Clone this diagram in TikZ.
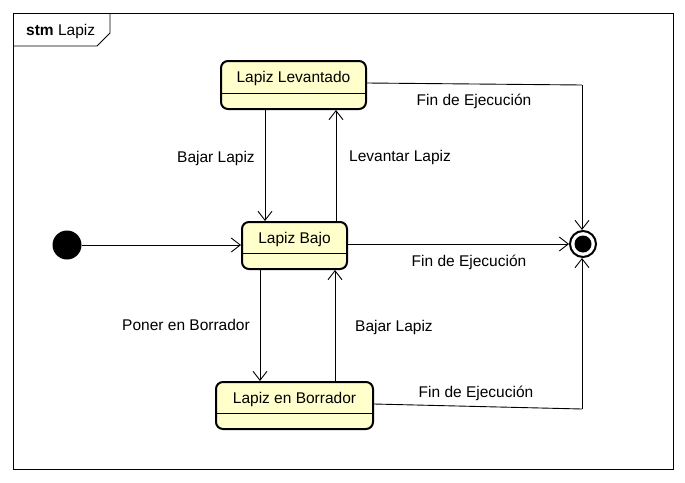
\documentclass[tikz,border=0pt]{standalone}
\usepackage{fontspec}
\setmainfont{Liberation Sans}
\usetikzlibrary{arrows.meta}
\tikzset{
  stbox/.style={draw=black, line width=2pt, fill=stfill, rounded corners=7pt, inner sep=0pt},
  txt/.style={font=\fontsize{15.5}{18}\selectfont, inner sep=0pt},
  conn/.style={draw=black, line width=0.9pt, -{Straight Barb[length=9pt,width=14pt,line width=0.9pt]}},
  plain/.style={draw=black, line width=0.9pt},
}
\definecolor{stfill}{RGB}{255,255,204}
\begin{document}
\begin{tikzpicture}[x=1pt,y=-1pt]
\useasboundingbox (0,0) rectangle (685,482);
% frame
\draw[line width=0.9pt] (13,13) rectangle (673,469);
\draw[line width=0.9pt] (13,46) -- (97,46) -- (110,33) -- (110,13);
\node[txt, anchor=west] (title) at (26,31) {\textbf{stm} Lapiz};
% states
\node[stbox, minimum width=145pt, minimum height=48pt] (lev) at (293.5,85) {};
\node[txt] (levt) at (293.5,78) {Lapiz Levantado};
\draw[line width=0.9pt] (lev.west |- 0,93) -- (lev.east |- 0,93);

\node[stbox, minimum width=105pt, minimum height=47pt] (bajo) at (294.5,245.5) {};
\node[txt] (bajot) at (294.5,239) {Lapiz Bajo};
\draw[line width=0.9pt] (bajo.west |- 0,253) -- (bajo.east |- 0,253);

\node[stbox, minimum width=157pt, minimum height=47pt] (bor) at (294.5,405.5) {};
\node[txt] (bort) at (294.5,399) {Lapiz en Borrador};
\draw[line width=0.9pt] (bor.west |- 0,413) -- (bor.east |- 0,413);

% initial and final
\node[circle, fill=black, minimum size=29pt, inner sep=0pt] (init) at (67,245) {};
\node[circle, draw=black, line width=2pt, fill=white, minimum size=26pt, inner sep=0pt] (fin) at (583,244) {};
\node[circle, fill=black, minimum size=17pt, inner sep=0pt] (finin) at (583,244) {};

% transitions
\draw[conn] (init.east) -- (bajo.west |- init.east);
\draw[conn] (265,0 |- lev.south) -- (265,0 |- bajo.north);
\node[txt] (l1) at (216,158) {Bajar Lapiz};
\draw[conn] (336,0 |- bajo.north) -- (336,0 |- lev.south);
\node[txt] (l2) at (400,157) {Levantar Lapiz};
\draw[conn] (260,0 |- bajo.south) -- (260,0 |- bor.north);
\node[txt] (l3) at (186,325) {Poner en Borrador};
\draw[conn] (335,0 |- bor.north) -- (335,0 |- bajo.south);
\node[txt] (l4) at (394,327) {Bajar Lapiz};

\coordinate (c1) at (582,85);
\draw[plain] (lev.east |- 0,83) -- (c1);
\draw[conn] (c1) -- (582,0 |- fin.north);
\node[txt] (l5) at (474,101) {Fin de Ejecución};

\draw[conn] (bajo.east |- fin.west) -- (fin.west);
\node[txt] (l6) at (469,262) {Fin de Ejecución};

\coordinate (c2) at (582,409);
\draw[plain] (bor.east |- 0,404) -- (c2);
\draw[conn] (c2) -- (582,0 |- fin.south);
\node[txt] (l7) at (476,393) {Fin de Ejecución};
\end{tikzpicture}
\end{document}
